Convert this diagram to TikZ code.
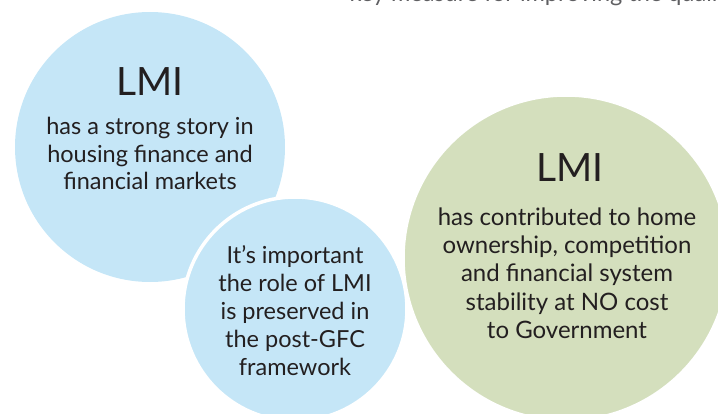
\documentclass[tikz,border=0pt]{standalone}
\usepackage{fontspec}
\setmainfont{Lato}
\definecolor{lmiblue}{RGB}{197,230,247}
\definecolor{lmigreen}{RGB}{212,223,189}
\definecolor{lmitext}{RGB}{35,31,32}
\definecolor{toptext}{RGB}{95,95,98}
\begin{document}
\begin{tikzpicture}[x=1pt,y=1pt,
  bubble/.style={circle, inner sep=0pt, line width=3.5pt, draw=white},
  title/.style={text=lmitext, font=\fontsize{39}{44}\selectfont, anchor=base},
  body/.style={text=lmitext, align=center, font=\fontsize{23.5}{27.5}\selectfont, anchor=north}]
\useasboundingbox (0,0) rectangle (718,413);
\node[bubble, fill=lmiblue, draw=none, minimum size=270pt] (c1) at (150,266) {};
\node[bubble, fill=lmiblue, minimum size=224pt] (c2) at (295,104) {};
\node[bubble, fill=lmigreen, minimum size=326pt] (c3) at (566,155) {};
\node[anchor=base west, text=toptext, font=\fontsize{23.5}{26}\selectfont] (top) at (346,411.5) {key measure for improving the quality};
\node[title] (t1) at (150,317) {LMI};
\node[body] (b1) at (150,299) {has a strong story in\\housing finance and\\financial markets};
\node[body, font=\fontsize{23.5}{28}\selectfont] (b2) at (295,171) {It’s important\\the role of LMI\\is preserved in\\the post-GFC\\framework};
\node[title] (t3) at (570,231) {LMI};
\node[body, font=\fontsize{24}{28.3}\selectfont] (b3) at (567,209) {has contributed to home\\ownership, competition\\and financial system\\stability at NO cost\\to Government};
\end{tikzpicture}
\end{document}
